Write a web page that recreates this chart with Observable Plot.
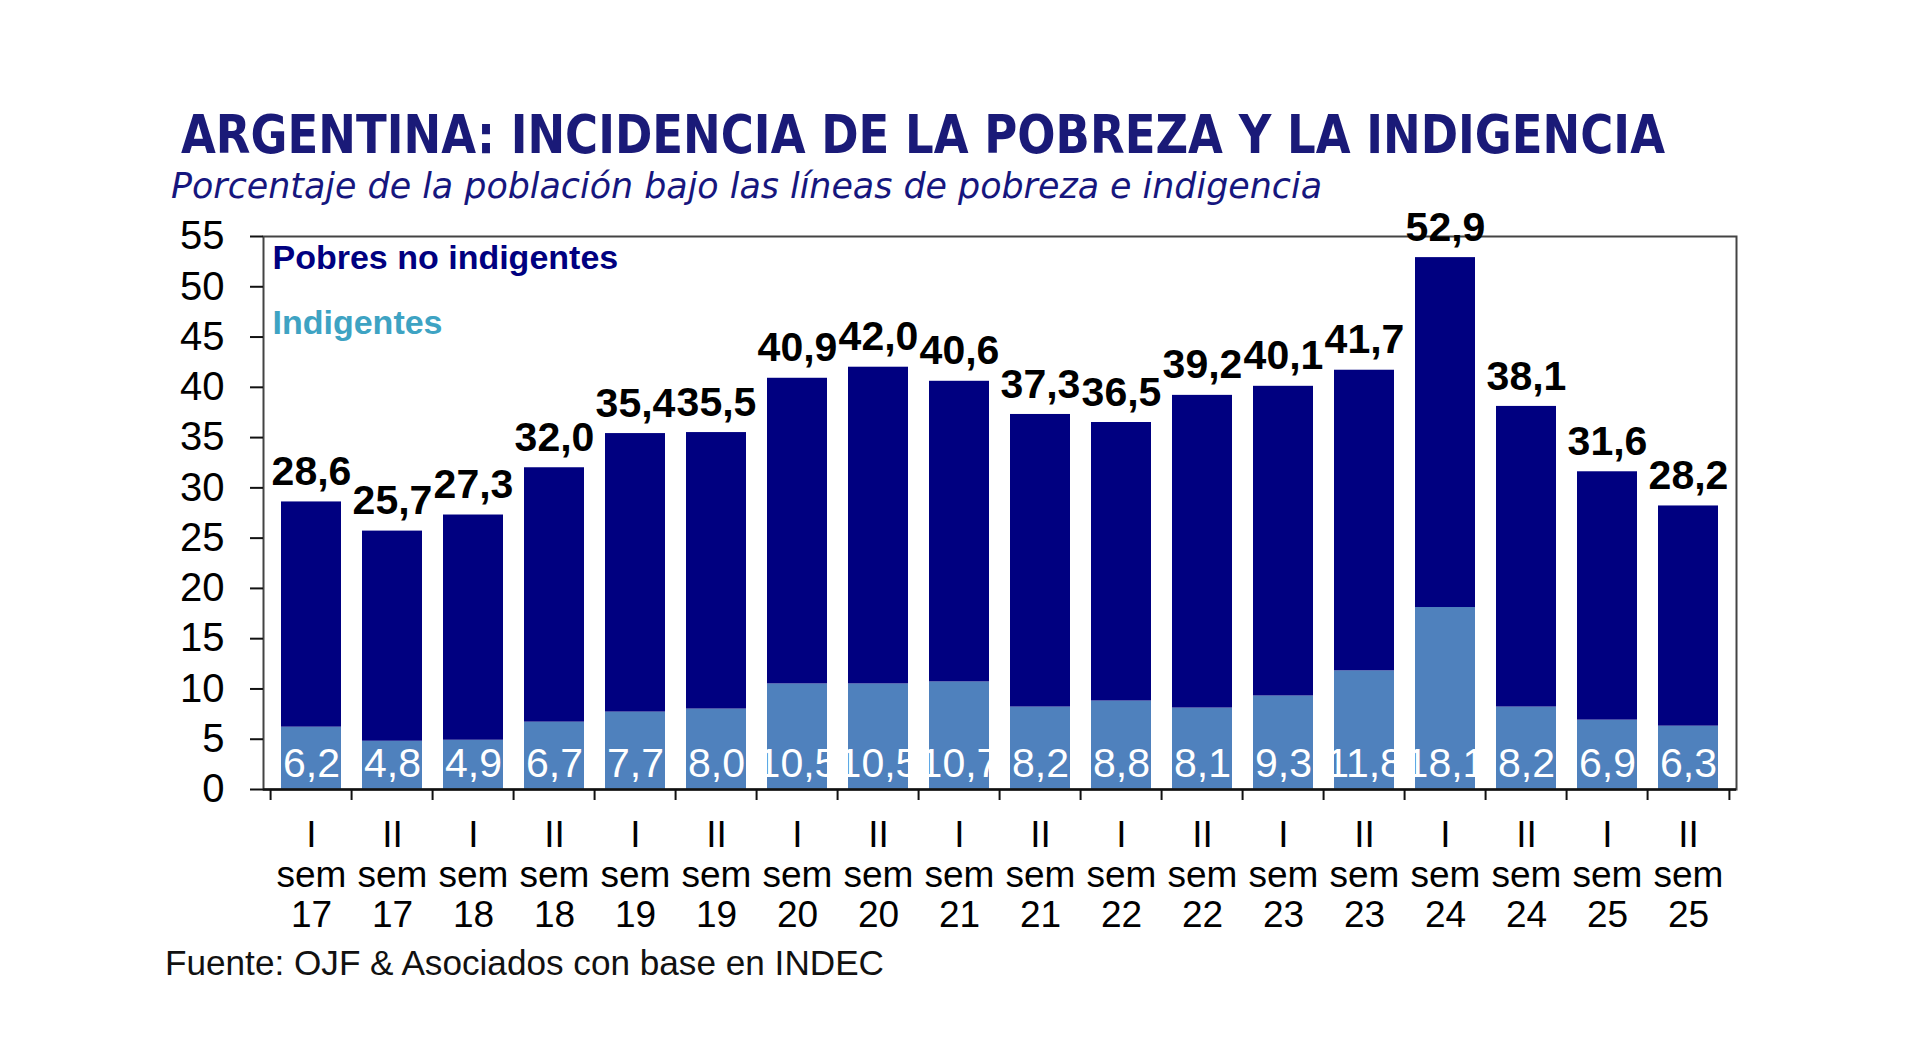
<!DOCTYPE html>
<html>
<head>
<meta charset="utf-8">
<script src="https://cdn.jsdelivr.net/npm/d3@7"></script>
<script src="https://cdn.jsdelivr.net/npm/@observablehq/plot@0.6"></script>
<style>
  html, body { margin: 0; padding: 0; background: #ffffff; }
  #page { position: relative; width: 1920px; height: 1062px; overflow: hidden; background: #ffffff; }
  .txt { position: absolute; white-space: nowrap; line-height: 1; transform-origin: 0 0; display: inline-block; }
  #title { left: 181px; top: 108px; font-family: "DejaVu Sans", sans-serif; font-weight: bold; font-size: 53px; color: #1a1a78; }
  #subtitle { left: 171px; top: 168px; font-family: "DejaVu Sans", sans-serif; font-style: italic; font-size: 36px; color: #16167e; }
  #source { left: 165px; top: 945px; font-family: "Liberation Sans", Arial, sans-serif; font-size: 35px; color: #111; }
  #chart { position: absolute; left: 0; top: 190px; }
</style>
</head>
<body>
<div id="page">
  <div id="title" class="txt" data-w="1484">ARGENTINA: INCIDENCIA DE LA POBREZA Y LA INDIGENCIA</div>
  <div id="subtitle" class="txt" data-w="1151">Porcentaje de la población bajo las líneas de pobreza e indigencia</div>
  <div id="chart"></div>
  <div id="source" class="txt" data-w="719">Fuente: OJF &amp; Asociados con base en INDEC</div>
</div>
<script>
// ---- data ----
const semesters = ["I","II","I","II","I","II","I","II","I","II","I","II","I","II","I","II","I","II"];
const years = ["17","17","18","18","19","19","20","20","21","21","22","22","23","23","24","24","25","25"];
const totalPobreza = [28.6, 25.7, 27.3, 32.0, 35.4, 35.5, 40.9, 42.0, 40.6, 37.3, 36.5, 39.2, 40.1, 41.7, 52.9, 38.1, 31.6, 28.2];
const indigencia = [6.2, 4.8, 4.9, 6.7, 7.7, 8.0, 10.5, 10.5, 10.7, 8.2, 8.8, 8.1, 9.3, 11.8, 18.1, 8.2, 6.9, 6.3];
const yTicks = [0, 5, 10, 15, 20, 25, 30, 35, 40, 45, 50, 55];
const seriesNames = ["Pobres no indigentes", "Indigentes"];

const categories = semesters.map((s, i) => `${s} sem ${years[i]}`);
const rows = categories.map((c, i) => ({
  cat: c,
  sem: semesters[i],
  year: years[i],
  total: totalPobreza[i],
  indig: indigencia[i]
}));
const fmt = v => d3.format(".1f")(v).replace(".", ",");

const W = 1920, H = 760;
const mL = 263, mR = 1920 - 1736, mT = 46, mB = 161;
const step = (W - mL - mR) / categories.length;

const DARK = "#000080", LIGHT = "#4f81bd", TEAL = "#3ea3c3";

const chart = Plot.plot({
  width: W,
  height: H,
  marginLeft: mL,
  marginRight: mR,
  marginTop: mT,
  marginBottom: mB,
  style: { fontFamily: "'Liberation Sans', Arial, sans-serif", fontSize: "37px", color: "#000", background: "transparent" },
  x: { domain: categories, paddingInner: 0.26, paddingOuter: 0.13, label: null },
  y: { domain: [0, 55], label: null },
  marks: [
    Plot.barY(rows, { x: "cat", y1: 0, y2: "indig", fill: LIGHT }),
    Plot.barY(rows, { x: "cat", y1: "indig", y2: "total", fill: DARK }),
    Plot.frame({ stroke: "#444", strokeWidth: 2 }),
    Plot.ruleY([0], { stroke: "#111", strokeWidth: 2.5 }),
    Plot.axisY({ ticks: yTicks, tickSize: 13, tickPadding: 26, tickFormat: d => String(d), fontSize: 40, stroke: "#111", strokeWidth: 2, label: null }),
    Plot.axisX({ tickSize: 0, tickPadding: 29, fontSize: 37, lineHeight: 1.08, tickFormat: d => { const r = rows.find(o => o.cat === d); return `${r.sem}\nsem\n${r.year}`; }, label: null }),
    Plot.ruleX(rows, { x: "cat", y1: 0, y2: 0, dx: -step / 2, insetBottom: -11, stroke: "#111", strokeWidth: 2 }),
    Plot.ruleX([rows[rows.length - 1]], { x: "cat", y1: 0, y2: 0, dx: step / 2, insetBottom: -11, stroke: "#111", strokeWidth: 2 }),
    Plot.text(rows, { x: "cat", y: "total", text: d => fmt(d.total), dy: -30, lineAnchor: "middle", fontSize: 41, fontWeight: "bold", fill: "#000" }),
    Plot.text(rows, { x: "cat", y: 0, text: d => fmt(d.indig), dy: -26, lineAnchor: "middle", fontSize: 41, fill: "#fff" }),
    Plot.text([seriesNames[0]], { frameAnchor: "top-left", text: d => d, dx: 9, dy: 8, lineAnchor: "top", textAnchor: "start", fontSize: 34, fontWeight: "bold", fill: DARK }),
    Plot.text([seriesNames[1]], { frameAnchor: "top-left", text: d => d, dx: 9, dy: 73, lineAnchor: "top", textAnchor: "start", fontSize: 34, fontWeight: "bold", fill: TEAL })
  ]
});
document.getElementById("chart").appendChild(chart);

// fit heading texts horizontally to the widths seen in the reference
document.querySelectorAll(".txt").forEach(el => {
  const target = +el.dataset.w;
  const natural = el.getBoundingClientRect().width;
  if (natural > 0 && target) el.style.transform = `scaleX(${target / natural})`;
});
</script>
</body>
</html>
